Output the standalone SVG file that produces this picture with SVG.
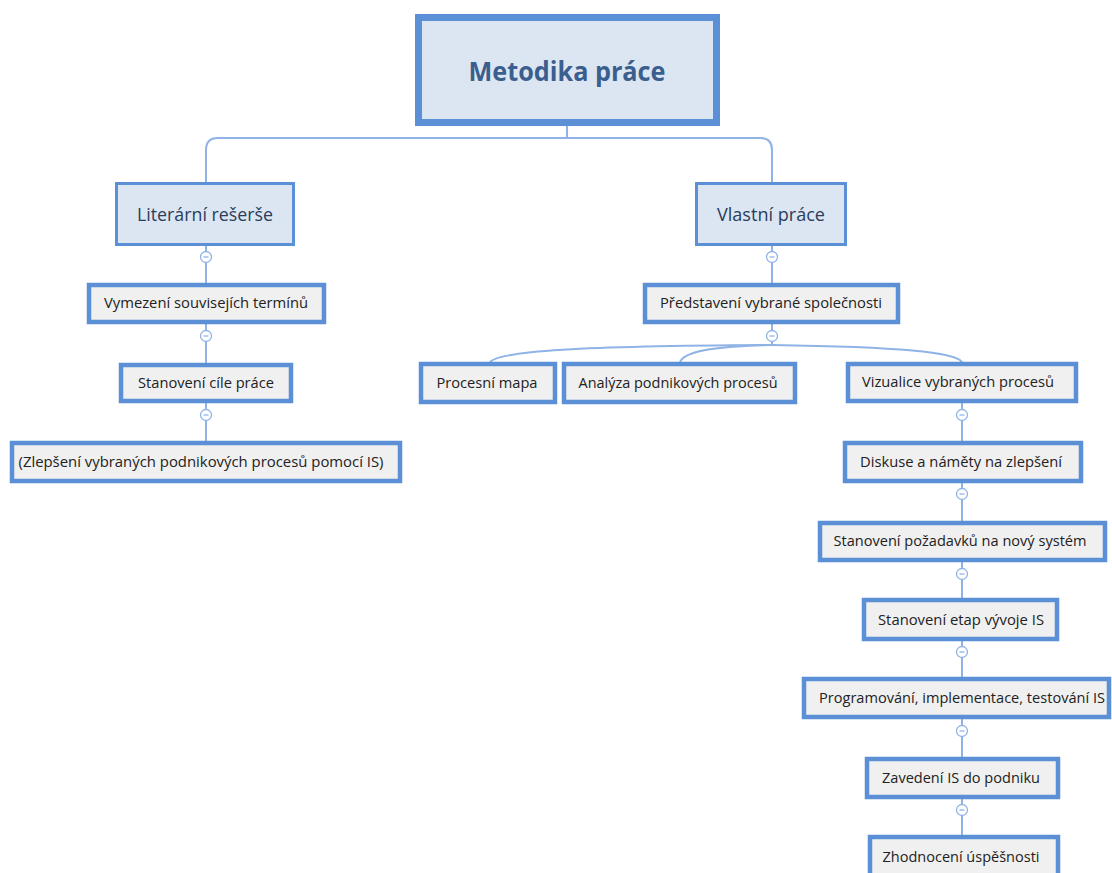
<svg xmlns="http://www.w3.org/2000/svg" width="1112" height="873" viewBox="0 0 1112 873">
  <style>
    .bg { fill: #ffffff; }
    .edge { fill: none; stroke: #8fb3e6; stroke-width: 2; }
    .root rect { fill: #dce6f2; stroke: #5b8fd6; stroke-width: 7; }
    .main rect { fill: #dce6f2; stroke: #5b8fd6; stroke-width: 3; }
    .leaf rect { fill: #f0f0f0; stroke: #5b8fd6; stroke-width: 4.5; }
    text { font-family: "Open Sans", "Noto Sans", "DejaVu Sans", sans-serif; text-anchor: middle; }
    .root text { font-size: 26px; font-weight: bold; fill: #3a5f8f; }
    .main text { font-size: 19px; fill: #2a3d5c; }
    .leaf text { font-size: 14.5px; fill: #222222; }
  </style>
  <defs>
    <!-- collapse toggle drawn below each expanded node -->
    <g id="minus">
      <circle cx="0" cy="0" r="5.5" fill="#ffffff" stroke="#8fb3e6" stroke-width="1.3"/>
      <line x1="-2.5" y1="0" x2="2.5" y2="0" stroke="#8fb3e6" stroke-width="1.3"/>
    </g>
  </defs>
  <rect class="bg" x="0" y="0" width="1112" height="873"/>

  <!-- connectors -->
  <g id="connectors">
    <path class="edge" d="M567,126 V138"/>
    <path class="edge" d="M206,183 V150 Q206,138 218,138 H760 Q772,138 772,150 V183"/>
    <path class="edge" d="M206,246 V284"/>
    <path class="edge" d="M206,324 V363"/>
    <path class="edge" d="M206,403 V441"/>
    <path class="edge" d="M772,246 V284"/>
    <path class="edge" d="M772,324 V345"/>
    <path class="edge" d="M772,345 C580,346 500,351 490,362"/>
    <path class="edge" d="M772,345 C710,346 684,352 680,362"/>
    <path class="edge" d="M772,345 C900,347 955,352 962,362"/>
    <path class="edge" d="M962,403 V441"/>
    <path class="edge" d="M962,483 V521"/>
    <path class="edge" d="M962,562 V598"/>
    <path class="edge" d="M962,641 V677"/>
    <path class="edge" d="M962,719 V757"/>
    <path class="edge" d="M962,799 V835"/>
    <g class="toggle">
      <use href="#minus" x="206" y="257"/>
      <use href="#minus" x="206" y="336"/>
      <use href="#minus" x="206" y="415"/>
      <use href="#minus" x="772" y="257"/>
      <use href="#minus" x="772" y="336"/>
      <use href="#minus" x="962" y="415"/>
      <use href="#minus" x="962" y="494"/>
      <use href="#minus" x="962" y="574"/>
      <use href="#minus" x="962" y="652"/>
      <use href="#minus" x="962" y="731"/>
      <use href="#minus" x="962" y="810"/>
    </g>
  </g>

  <!-- root -->
  <g id="metodika-prace" class="root">
    <rect x="418.5" y="17.5" width="298" height="105"/>
    <text x="567" y="81" textLength="197" lengthAdjust="spacingAndGlyphs">Metodika práce</text>
  </g>

  <!-- main branches -->
  <g id="literarni-reserse" class="main">
    <rect x="116.5" y="183.5" width="177" height="61"/>
    <text x="205" y="221" textLength="136" lengthAdjust="spacingAndGlyphs">Literární rešerše</text>
  </g>
  <g id="vlastni-prace" class="main">
    <rect x="696.5" y="183.5" width="149" height="61"/>
    <text x="771" y="221" textLength="108" lengthAdjust="spacingAndGlyphs">Vlastní práce</text>
  </g>

  <!-- left branch -->
  <g id="vymezeni-terminu" class="leaf">
    <rect x="89" y="285" width="235" height="37"/>
    <text x="206" y="308" textLength="204" lengthAdjust="spacingAndGlyphs">Vymezení souvisejích termínů</text>
  </g>
  <g id="stanoveni-cile" class="leaf">
    <rect x="121" y="365" width="170" height="36"/>
    <text x="206" y="388" textLength="136" lengthAdjust="spacingAndGlyphs">Stanovení cíle práce</text>
  </g>
  <g id="zlepseni-procesu" class="leaf">
    <rect x="12" y="443" width="388" height="38"/>
    <text x="201" y="467" textLength="365" lengthAdjust="spacingAndGlyphs">(Zlepšení vybraných podnikových procesů pomocí IS)</text>
  </g>

  <!-- right branch -->
  <g id="predstaveni-spolecnosti" class="leaf">
    <rect x="645" y="285" width="253" height="37"/>
    <text x="771" y="308" textLength="222" lengthAdjust="spacingAndGlyphs">Představení vybrané společnosti</text>
  </g>
  <g id="procesni-mapa" class="leaf">
    <rect x="421" y="364" width="134" height="38"/>
    <text x="487" y="388" textLength="101" lengthAdjust="spacingAndGlyphs">Procesní mapa</text>
  </g>
  <g id="analyza-procesu" class="leaf">
    <rect x="564" y="364" width="231" height="38"/>
    <text x="678" y="388" textLength="199" lengthAdjust="spacingAndGlyphs">Analýza podnikových procesů</text>
  </g>
  <g id="vizualice-procesu" class="leaf">
    <rect x="848" y="364" width="228" height="37"/>
    <text x="958" y="387" textLength="192" lengthAdjust="spacingAndGlyphs">Vizualice vybraných procesů</text>
  </g>
  <g id="diskuse-namety" class="leaf">
    <rect x="845" y="443" width="236" height="38"/>
    <text x="961" y="467" textLength="202" lengthAdjust="spacingAndGlyphs">Diskuse a náměty na zlepšení</text>
  </g>
  <g id="pozadavky-system" class="leaf">
    <rect x="820" y="523" width="285" height="37"/>
    <text x="960" y="546" textLength="253" lengthAdjust="spacingAndGlyphs">Stanovení požadavků na nový systém</text>
  </g>
  <g id="etapy-vyvoje" class="leaf">
    <rect x="864" y="600" width="193" height="39"/>
    <text x="961" y="625" textLength="166" lengthAdjust="spacingAndGlyphs">Stanovení etap vývoje IS</text>
  </g>
  <g id="programovani" class="leaf">
    <rect x="804" y="679" width="305" height="38"/>
    <text x="962" y="703" textLength="286" lengthAdjust="spacingAndGlyphs">Programování, implementace, testování IS</text>
  </g>
  <g id="zavedeni-is" class="leaf">
    <rect x="867" y="759" width="191" height="38"/>
    <text x="961" y="783" textLength="158" lengthAdjust="spacingAndGlyphs">Zavedení IS do podniku</text>
  </g>
  <g id="zhodnoceni" class="leaf">
    <rect x="870" y="837" width="188" height="44"/>
    <text x="961" y="862" textLength="157" lengthAdjust="spacingAndGlyphs">Zhodnocení úspěšnosti</text>
  </g>
</svg>
